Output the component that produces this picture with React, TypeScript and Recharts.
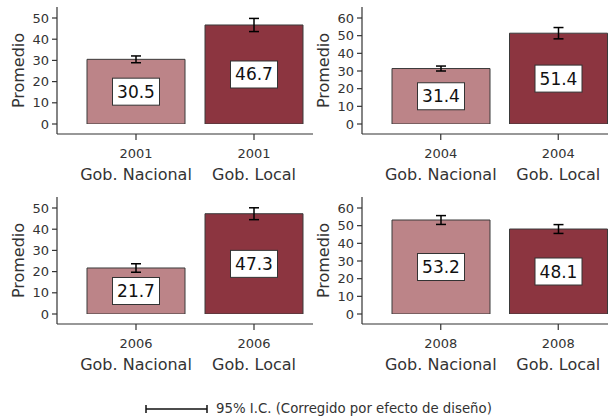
import React from 'react';
import { BarChart, Bar, XAxis, YAxis, Cell, ErrorBar, LabelList } from 'recharts';

// Values
const YEARS = ['2001', '2004', '2006', '2008'];
const LEVELS = ['Gob. Nacional', 'Gob. Local'];
const NACIONAL = [30.5, 31.4, 21.7, 53.2];
const LOCAL = [46.7, 51.4, 47.3, 48.1];
const NACIONAL_ERR = [1.6, 1.4, 2.0, 2.5];
const LOCAL_ERR = [3.1, 3.2, 2.8, 2.5];
const Y_MAX = [50, 60, 50, 60];

const COLORS = ['#bc8488', '#8c3540'];
const INK = '#333333';
const FONT = '"DejaVu Sans", sans-serif';

const XTick = ({ x, y, payload, year }: any) => (
    <g>
        <text x={x} y={y + 16} textAnchor="middle" fontSize={13} fill={INK} fontFamily={FONT}>{year}</text>
        <text x={x} y={y + 38} textAnchor="middle" fontSize={16} fill={INK} fontFamily={FONT}>{payload.value}</text>
    </g>
);

const YLabel = ({ viewBox }: any) => {
    const bx = viewBox.x + viewBox.width - 33;
    const by = viewBox.y + viewBox.height / 2;
    return (
        <text x={bx} y={by} transform={`rotate(-90, ${bx}, ${by})`} textAnchor="middle" fontSize={16} fill={INK} fontFamily={FONT}>
            Promedio
        </text>
    );
};

const ValueBox = (props: any) => {
    const { x, y, width, height, value } = props;
    const cx = x + width / 2;
    const cy = y + height / 2;
    return (
        <g>
            <rect x={cx - 23.5} y={cy - 13.5} width={47} height={27} fill="#fff" stroke={INK} strokeWidth={1} />
            <text x={cx} y={cy + 6} textAnchor="middle" fontSize={17} fill="#111" fontFamily={FONT}>{value}</text>
        </g>
    );
};

const Panel = ({ i }: { i: number }) => {
    const data = [
        { level: LEVELS[0], value: NACIONAL[i], err: NACIONAL_ERR[i] },
        { level: LEVELS[1], value: LOCAL[i], err: LOCAL_ERR[i] },
    ];
    const ticks: number[] = [];
    for (let t = 0; t <= Y_MAX[i]; t += 10) ticks.push(t);
    const right = i % 2 === 1;
    return (
        <div style={{ position: 'absolute', left: right ? 304 : 0, top: i < 2 ? 0 : 190 }}>
            <BarChart width={320} height={190} data={data} margin={{ top: 7, right: 7, left: 0, bottom: 0 }} barSize={98}>
                <XAxis
                    dataKey="level"
                    padding={{ left: 20, right: 0 }}
                    height={56}
                    tickSize={6}
                    axisLine={{ stroke: INK, strokeWidth: 1.2 }}
                    tickLine={{ stroke: INK, strokeWidth: 1.2 }}
                    tick={<XTick year={YEARS[i]} />}
                    interval={0}
                />
                <YAxis
                    type="number"
                    domain={[0, Y_MAX[i]]}
                    ticks={ticks}
                    interval={0}
                    allowDataOverflow
                    width={right ? 58 : 57}
                    padding={{ top: 11, bottom: 10 }}
                    tickSize={5}
                    tickMargin={3}
                    axisLine={{ stroke: INK, strokeWidth: 1.2 }}
                    tickLine={{ stroke: INK, strokeWidth: 1.2 }}
                    tick={{ fill: INK, fontSize: 13, fontFamily: FONT }}
                    label={<YLabel />}
                />
                <Bar dataKey="value" stroke="#3a3a3a" strokeWidth={1} isAnimationActive={false}>
                    {data.map((d, k) => (
                        <Cell key={`c-${k}`} fill={COLORS[k]} />
                    ))}
                    <ErrorBar dataKey="err" width={5} stroke="#000" strokeWidth={1.5} />
                    <LabelList dataKey="value" content={<ValueBox />} />
                </Bar>
            </BarChart>
        </div>
    );
};

export default function App() {
    return (
        <div style={{ position: 'absolute', left: 0, top: 0, width: 608, height: 416, overflow: 'hidden', background: '#fff', fontFamily: FONT }}>
            {[0, 1, 2, 3].map((i) => (
                <Panel key={i} i={i} />
            ))}
            {/* legend */}
            <svg style={{ position: 'absolute', left: 0, top: 395 }} width={608} height={21}>
                <line x1={146} y1={14} x2={207} y2={14} stroke="#111" strokeWidth={1.5} />
                <line x1={146} y1={10} x2={146} y2={18} stroke="#111" strokeWidth={1.5} />
                <line x1={207} y1={10} x2={207} y2={18} stroke="#111" strokeWidth={1.5} />
                <text x={216} y={18} fontSize={13.3} fill={INK} fontFamily={FONT}>95% I.C. (Corregido por efecto de diseño)</text>
            </svg>
        </div>
    );
}
